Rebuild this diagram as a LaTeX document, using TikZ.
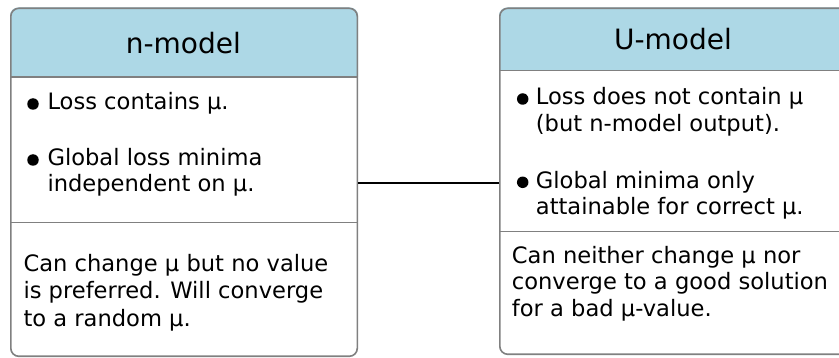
\documentclass[tikz,border=0pt]{standalone}
\usepackage{fontspec}
\setmainfont{DejaVu Sans}
\usetikzlibrary{backgrounds}
\definecolor{hdrblue}{HTML}{ADD8E6}
\definecolor{bordergray}{HTML}{808080}
\tikzset{
  boxframe/.style={draw=bordergray, line width=1.6pt, rounded corners=8pt, rectangle, inner sep=0pt},
  divider/.style={draw=bordergray, line width=1.6pt},
  titletext/.style={anchor=base, inner sep=0pt, font=\fontsize{28}{34}\selectfont},
  bodytext/.style={anchor=base west, inner sep=0pt, font=\fontsize{22.6}{27}\selectfont},
  bulletdot/.style={circle, fill=black, inner sep=0pt, minimum size=11.5pt},
  connector/.style={draw=black, line width=1.6pt}
}
\begin{document}
\begin{tikzpicture}[x=1pt,y=-1pt]
\useasboundingbox (0,0) rectangle (839,358);
\clip (0,0) rectangle (839,358);
% boxes
\node[boxframe, anchor=north west, minimum width=346.5pt, minimum height=348pt] (nbox) at (10,7.5) {};
\node[boxframe, anchor=north west, minimum width=360pt, minimum height=346pt] (ubox) at (499,7.5) {};
\coordinate (nhead) at (0,77);
\coordinate (ndiv) at (0,222.7);
\coordinate (uhead) at (0,70.5);
\coordinate (udiv) at (0,231.7);
\coordinate (conny) at (0,183.3);
\begin{scope}[on background layer]
  \fill[white] (0,0) rectangle (839,358);
  \begin{scope}
    \clip (nbox.north west) rectangle (nbox.east |- nhead);
    \fill[hdrblue, rounded corners=8pt] (nbox.north west) rectangle (nbox.south east);
  \end{scope}
  \begin{scope}
    \clip (ubox.north west) rectangle (ubox.east |- uhead);
    \fill[hdrblue, rounded corners=8pt] (ubox.north west) rectangle (ubox.south east);
  \end{scope}
\end{scope}
\draw[divider] (nbox.west |- nhead) -- (nbox.east |- nhead);
\draw[divider] (nbox.west |- ndiv) -- (nbox.east |- ndiv);
\draw[divider] (ubox.west |- uhead) -- (ubox.east |- uhead);
\draw[divider] (ubox.west |- udiv) -- (ubox.east |- udiv);
% connector
\draw[connector] (nbox.east |- conny) -- (ubox.west |- conny);
% titles
\node[titletext] (ntitle) at (183.3,54) {n-model};
\node[titletext] (utitle) at (673,50) {U-model};
% left body
\node[bulletdot] (b1) at (33,104) {};
\node[bodytext] (n1) at (47.3,110) {Loss contains μ.};
\node[bulletdot] (b2) at (33,160) {};
\node[bodytext] (n2) at (47.3,166) {Global loss minima};
\node[bodytext] (n3) at (47.3,192) {independent on μ.};
\node[bodytext] (n4) at (23.3,271.7) {Can change μ but no value};
\node[bodytext] (n5) at (23.3,299) {is preferred. Will converge};
\node[bodytext] (n6) at (23.3,326.5) {to a random μ.};
% right body
\node[bulletdot] (b3) at (522.7,99) {};
\node[bodytext] (u1) at (535.7,105) {Loss does not contain μ};
\node[bodytext] (u2) at (535.7,131.7) {(but n-model output).};
\node[bulletdot] (b4) at (522.7,182.3) {};
\node[bodytext] (u3) at (535.7,188.3) {Global minima only};
\node[bodytext] (u4) at (535.7,215) {attainable for correct μ.};
\node[bodytext] (u5) at (511.7,263.3) {Can neither change μ nor};
\node[bodytext] (u6) at (511.7,290) {converge to a good solution};
\node[bodytext] (u7) at (511.7,316.7) {for a bad μ-value.};
\end{tikzpicture}
\end{document}
